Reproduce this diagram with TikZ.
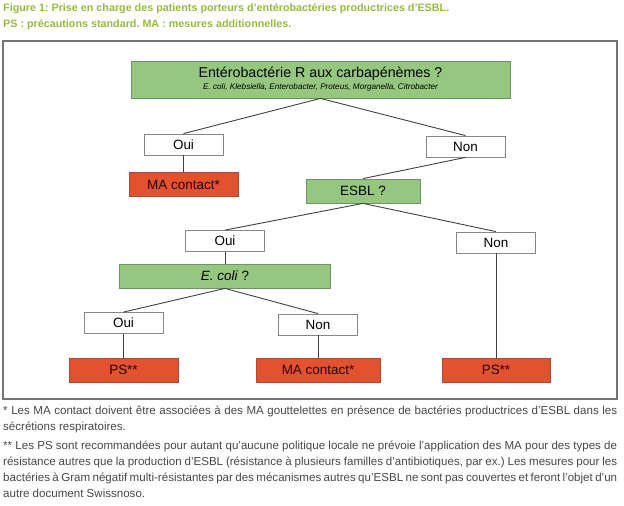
\documentclass[tikz,border=0pt]{standalone}
\usepackage{fontspec}
\setmainfont{Liberation Sans}
\usepackage{xcolor}
\usetikzlibrary{positioning}

\definecolor{titrevert}{RGB}{152,186,62}
\definecolor{vertclair}{RGB}{150,199,128}
\definecolor{vertbord}{RGB}{112,146,100}
\definecolor{rougeor}{RGB}{226,82,46}
\definecolor{rougebord}{RGB}{176,72,50}
\definecolor{grisbord}{RGB}{135,135,135}
\definecolor{gristexte}{RGB}{70,70,70}

\frenchspacing
\hyphenpenalty=10000
\exhyphenpenalty=10000

\begin{document}
\begin{tikzpicture}[x=1bp, y=-1bp,
    boite/.style={draw=grisbord, line width=0.8bp, inner sep=0pt,
        minimum height=21bp, minimum width=79bp,
        font=\fontsize{13.5}{15}\selectfont},
    question/.style={boite, fill=vertclair, draw=vertbord, minimum height=24bp},
    mesure/.style={boite, fill=rougeor, draw=rougebord, minimum height=24bp,
        text=black!85!red},
    lien/.style={draw=black!75, line width=0.9bp},
    note/.style={anchor=north west, inner sep=0pt, text width=614bp, align=justify,
        text=gristexte, font=\fontsize{11.6}{16}\selectfont}]

    % Cadre de la page
    \useasboundingbox (0,0) rectangle (624,506);

    % Titre
    \node[anchor=base west, inner sep=0pt, text=titrevert,
        font=\bfseries\fontsize{10.8}{13}\selectfont] (titre1) at (3,12)
        {Figure 1: Prise en charge des patients porteurs d'entérobactéries productrices d'ESBL.};
    \node[anchor=base west, inner sep=0pt, text=titrevert,
        font=\bfseries\fontsize{10.8}{13}\selectfont] (titre2) at (3,28)
        {PS : précautions standard. MA : mesures additionnelles.};

    % Cadre du schéma
    \draw[grisbord!85!black, line width=1.4bp] (3,41) rectangle (617,399);

    % Premier niveau
    \node[question, minimum width=379bp, minimum height=37bp, align=center,
        font=\fontsize{14.3}{15}\selectfont] (carba) at (320.5,79.5)
        {Entérobactérie R aux carbapénèmes ?\\[-3pt]
         {\fontsize{8.2}{9}\itshape E. coli, Klebsiella, Enterobacter, Proteus, Morganella, Citrobacter}};
    \node[boite] (oui1) at (183.5,144.5) {Oui};
    \node[boite] (non1) at (465.5,146.5) {Non};
    \node[mesure, minimum width=109bp] (ma1) at (183.5,184.5) {MA contact*};

    % Deuxième niveau
    \node[question, minimum width=114bp] (esbl) at (363,191) {ESBL ?};
    \node[boite] (oui2) at (225,241) {Oui};
    \node[boite] (non2) at (496,242.5) {Non};

    % Troisième niveau
    \node[question, minimum width=211bp] (ecoli) at (225,276) {\textit{E. coli} ?};
    \node[boite] (oui3) at (123.5,323) {Oui};
    \node[boite] (non3) at (318,324.5) {Non};

    % Mesures finales
    \node[mesure, minimum width=109bp] (ps1) at (123.5,370) {PS**};
    \node[mesure, minimum width=124bp] (ma2) at (318,370) {MA contact*};
    \node[mesure, minimum width=108bp] (ps2) at (496,370) {PS**};

    % Liens
    \draw[lien] (carba.south) -- (oui1.north);
    \draw[lien] (carba.south) -- (non1.north);
    \draw[lien] (oui1.south) -- (ma1.north);
    \draw[lien] (non1.south) -- (esbl.north);
    \draw[lien] (esbl.south) -- (oui2.north);
    \draw[lien] (esbl.south) -- (non2.north);
    \draw[lien] (oui2.south) -- (ecoli.north);
    \draw[lien] (ecoli.south) -- (oui3.north);
    \draw[lien] (ecoli.south) -- (non3.north);
    \draw[lien] (oui3.south) -- (ps1.north);
    \draw[lien] (non3.south) -- (ma2.north);
    \draw[lien] (non2.south) -- (ps2.north);

    % Notes
    \node[note] (note1) at (3,406)
        {* Les MA contact doivent être associées à des MA gouttelettes en présence de bactéries productrices d'ESBL dans les\linebreak
         sécrétions respiratoires.};
    \node[note] (note2) at (3,441)
        {** Les PS sont recommandées pour autant qu'aucune politique locale ne prévoie l'application des MA pour des types de\linebreak
         résistance autres que la production d'ESBL (résistance à plusieurs familles d'antibiotiques, par ex.) Les mesures pour les\linebreak
         bactéries à Gram négatif multi-résistantes par des mécanismes autres qu'ESBL ne sont pas couvertes et feront l'objet d'un\linebreak
         autre document Swissnoso.};

\end{tikzpicture}
\end{document}
